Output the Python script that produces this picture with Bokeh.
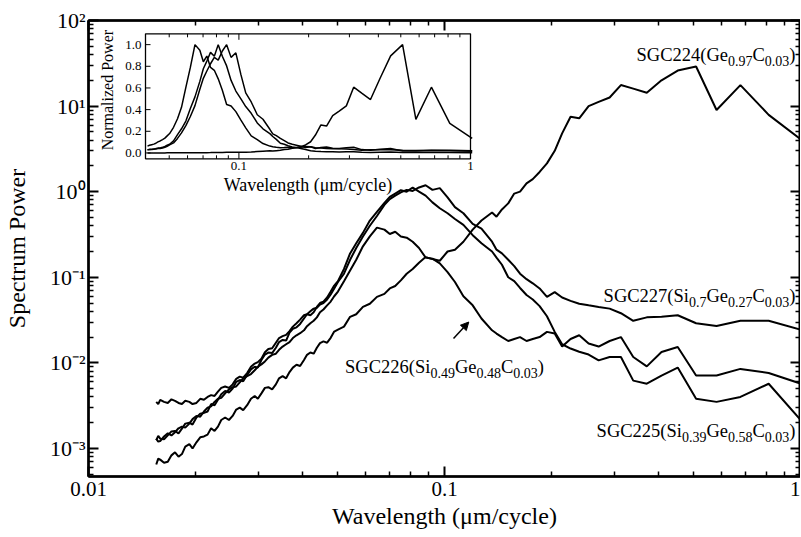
import math
from bokeh.plotting import figure
from bokeh.models import (Range1d, LogScale, LinearScale, LogAxis, FixedTicker,
                          CustomJSTickFormatter, Label, Arrow, NormalHead)
from bokeh.embed import file_html
from bokeh.resources import INLINE

# ---------------- data ----------------
wavelength = [0.0155, 0.0157, 0.0159, 0.0163, 0.0167, 0.0171, 0.0175, 0.0179, 0.0183, 0.0187,
              0.0192, 0.0196, 0.0201, 0.0206, 0.0211, 0.0216, 0.0221, 0.0226, 0.0231, 0.0236,
              0.0242, 0.0248, 0.0254, 0.0260, 0.0266, 0.0272, 0.0279, 0.0286, 0.0293, 0.0299,
              0.0306, 0.0313, 0.0320, 0.0328, 0.0336, 0.0343, 0.0351, 0.0359, 0.0367, 0.0375,
              0.0384, 0.0393, 0.0403, 0.0411, 0.0420, 0.0429, 0.0438, 0.0447, 0.0457, 0.0468,
              0.0479, 0.0490, 0.0502,
              0.0522, 0.0543, 0.0565, 0.0590, 0.0617, 0.0646, 0.0678, 0.0702, 0.0727, 0.0754,
              0.0783, 0.0814, 0.0848, 0.0885, 0.0925, 0.0970, 0.1020, 0.1070, 0.1130, 0.1200,
              0.1270, 0.1360, 0.1400, 0.1450, 0.1510, 0.1570, 0.1630, 0.1700, 0.1770, 0.1850,
              0.1940, 0.2040, 0.2140, 0.2260, 0.2390, 0.2540, 0.2710, 0.2910, 0.3130, 0.3390,
              0.3700, 0.4070, 0.4520, 0.5090, 0.5810, 0.6780, 0.8140, 1.0170]

sgc224 = [6.5e-4, 7.6e-4, 7.4e-4, 6.8e-4, 7.0e-4, 8.3e-4, 9.0e-4, 8.0e-4, 8.6e-4, 1.05e-3,
          1.12e-3, 1.0e-3, 1.18e-3, 1.35e-3, 1.38e-3, 1.45e-3, 1.72e-3, 1.6e-3, 1.8e-3, 2.15e-3,
          2.3e-3, 2.15e-3, 2.4e-3, 2.85e-3, 3.0e-3, 2.8e-3, 3.2e-3, 3.8e-3, 4.1e-3, 3.8e-3,
          4.4e-3, 5.1e-3, 5.2e-3, 4.9e-3, 5.6e-3, 6.6e-3, 7.0e-3, 6.6e-3, 7.8e-3, 8.8e-3,
          9.5e-3, 9.2e-3, 0.0108, 0.0124, 0.0132, 0.0128, 0.0150, 0.0170, 0.0178, 0.0172,
          0.0196, 0.0232, 0.0245,
          0.0265, 0.0345, 0.037, 0.045, 0.049, 0.059, 0.064, 0.074, 0.079, 0.092,
          0.11, 0.125, 0.148, 0.172, 0.163, 0.156, 0.20, 0.21, 0.26, 0.36,
          0.46, 0.57, 0.51, 0.62, 0.73, 0.95, 1.0, 1.25, 1.4, 1.7,
          2.14, 3.0, 4.8, 7.5, 7.2, 10.0, 11.2, 12.6, 17.6, 16.0,
          14.3, 20.0, 26.0, 29.0, 9.0, 17.6, 7.9, 3.9]

sgc225 = [1.25e-3, 1.4e-3, 1.3e-3, 1.28e-3, 1.42e-3, 1.58e-3, 1.6e-3, 1.5e-3, 1.7e-3, 1.95e-3,
          2.0e-3, 1.9e-3, 2.3e-3, 2.55e-3, 2.6e-3, 2.7e-3, 3.3e-3, 3.2e-3, 3.7e-3, 4.3e-3,
          4.7e-3, 4.5e-3, 5.0e-3, 6.0e-3, 6.3e-3, 6.1e-3, 7.2e-3, 8.4e-3, 9.0e-3, 8.8e-3,
          0.0108, 0.0125, 0.0132, 0.0130, 0.0150, 0.0175, 0.0185, 0.0182, 0.0225, 0.0250,
          0.026, 0.0285, 0.033, 0.037, 0.036, 0.039, 0.045, 0.050, 0.052, 0.058,
          0.068, 0.080, 0.09,
          0.125, 0.19, 0.25, 0.33, 0.46, 0.58, 0.74, 0.87, 0.95, 1.04,
          1.0, 1.12, 1.0, 0.9, 0.75, 0.64, 0.56, 0.48, 0.41, 0.31,
          0.25, 0.20, 0.17, 0.14, 0.10, 0.09, 0.075, 0.062, 0.055, 0.046,
          0.035, 0.023, 0.0165, 0.0147, 0.0135, 0.0125, 0.0107, 0.0117, 0.0117, 6.2e-3,
          5.7e-3, 7.1e-3, 8.8e-3, 3.8e-3, 3.5e-3, 4.0e-3, 5.7e-3, 2.0e-3]

sgc226 = [1.3e-3, 1.2e-3, 1.22e-3, 1.38e-3, 1.5e-3, 1.42e-3, 1.55e-3, 1.72e-3, 1.8e-3, 1.75e-3,
          1.95e-3, 2.2e-3, 2.4e-3, 2.35e-3, 2.7e-3, 3.0e-3, 3.1e-3, 3.5e-3, 3.8e-3, 3.9e-3,
          4.4e-3, 4.9e-3, 5.2e-3, 5.3e-3, 5.9e-3, 6.6e-3, 7.0e-3, 7.4e-3, 8.2e-3, 9.0e-3,
          9.6e-3, 0.0104, 0.0115, 0.0124, 0.0128, 0.0142, 0.0155, 0.0165, 0.0175, 0.0195,
          0.021, 0.0222, 0.024, 0.0268, 0.029, 0.031, 0.034, 0.039, 0.042, 0.047,
          0.052, 0.060, 0.068,
          0.09, 0.12, 0.16, 0.23, 0.30, 0.38, 0.36, 0.32, 0.34, 0.30,
          0.29, 0.26, 0.22, 0.17, 0.165, 0.145, 0.115, 0.088, 0.06, 0.047,
          0.033, 0.024, 0.022, 0.020, 0.018, 0.019, 0.020, 0.018, 0.019, 0.020,
          0.023, 0.022, 0.0155, 0.019, 0.021, 0.0168, 0.0155, 0.018, 0.020, 0.0117,
          9.1e-3, 0.0134, 0.0153, 7.1e-3, 7.1e-3, 8.5e-3, 7.6e-3, 5.6e-3]

sgc227 = [3.5e-3, 3.3e-3, 3.7e-3, 3.5e-3, 3.4e-3, 3.75e-3, 3.6e-3, 3.4e-3, 3.3e-3, 3.6e-3,
          3.5e-3, 3.3e-3, 3.4e-3, 3.8e-3, 3.7e-3, 4.0e-3, 4.2e-3, 4.1e-3, 4.6e-3, 5.1e-3,
          5.3e-3, 5.1e-3, 5.6e-3, 6.5e-3, 6.9e-3, 6.7e-3, 7.6e-3, 9.0e-3, 9.8e-3, 0.0102,
          0.0112, 0.0133, 0.0145, 0.0148, 0.0172, 0.0195, 0.0205, 0.0212, 0.0235, 0.0265,
          0.029, 0.032, 0.036, 0.037, 0.040, 0.043, 0.044, 0.048, 0.050, 0.055,
          0.063, 0.074, 0.088,
          0.11, 0.16, 0.22, 0.30, 0.40, 0.52, 0.70, 0.82, 0.90, 0.98,
          1.05, 1.02, 1.12, 1.19, 1.05, 1.10, 0.86, 0.66, 0.56, 0.42,
          0.37, 0.26, 0.21, 0.19, 0.16, 0.135, 0.11, 0.095, 0.085, 0.074,
          0.059, 0.067, 0.058, 0.053, 0.049, 0.047, 0.045, 0.043, 0.038, 0.031,
          0.034, 0.0345, 0.036, 0.029, 0.027, 0.031, 0.031, 0.024]

series = [sgc224, sgc225, sgc226, sgc227]

x_major = [0.01, 0.1, 1.0]
x_minor = [0.02, 0.03, 0.04, 0.05, 0.06, 0.07, 0.08, 0.09,
           0.2, 0.3, 0.4, 0.5, 0.6, 0.7, 0.8, 0.9]
y_major = [1e-3, 1e-2, 1e-1, 1.0, 10.0, 100.0]
y_minor = [5e-4, 6e-4, 7e-4, 8e-4, 9e-4,
           2e-3, 3e-3, 4e-3, 5e-3, 6e-3, 7e-3, 8e-3, 9e-3,
           2e-2, 3e-2, 4e-2, 5e-2, 6e-2, 7e-2, 8e-2, 9e-2,
           0.2, 0.3, 0.4, 0.5, 0.6, 0.7, 0.8, 0.9,
           2, 3, 4, 5, 6, 7, 8, 9,
           20, 30, 40, 50, 60, 70, 80, 90]

inset_x_major = [0.1]
inset_x_minor = [0.05, 0.06, 0.07, 0.08, 0.09, 0.2, 0.3, 0.4, 0.5, 0.6, 0.7, 0.8, 0.9]
inset_x_labels = [(0.1, "0.1"), (1.0, "1")]
inset_y_major = [0.0, 0.2, 0.4, 0.6, 0.8, 1.0]
inset_y_labels = ["0.0", "0.2", "0.4", "0.6", "0.8", "1.0"]

X_RANGE = (0.01, 1.0)
Y_RANGE = (4.7e-4, 100.0)
INSET_X = (0.0395, 1.0)
INSET_Y = (-0.054, 1.10)

# (pieces, x, y, align)  pieces: (text, is_subscript)
curve_labels = [
    ([("SGC224(Ge", 0), ("0.97", 1), ("C", 0), ("0.03", 1), (")", 0)], 1.0, 39.5, "right"),
    ([("SGC227(Si", 0), ("0.7", 1), ("Ge", 0), ("0.27", 1), ("C", 0), ("0.03", 1), (")", 0)], 1.0, 0.06, "right"),
    ([("SGC226(Si", 0), ("0.49", 1), ("Ge", 0), ("0.48", 1), ("C", 0), ("0.03", 1), (")", 0)], 0.1, 8.9e-3, "center"),
    ([("SGC225(Si", 0), ("0.39", 1), ("Ge", 0), ("0.58", 1), ("C", 0), ("0.03", 1), (")", 0)], 1.0, 1.58e-3, "right"),
]
arrow_from = (0.106, 0.0192)
arrow_to = (0.117, 0.030)

# ---------------- layout / style ----------------
FONT = "Liberation Serif"
FW, FH = 712, 456
BL, BR, BT, BB = 88, 0, 20, 57
# inset box, pixels relative to the frame's top-left corner
IB_L, IB_R, IB_T, IB_B = 57.0, 382.0, 13.3, 138.3

TW = {'S': .556, 'G': .722, 'C': .667, 'e': .444, 'i': .278, '(': .333, ')': .333,
      '.': .25, '-': .333}


def text_width(s, size):
    return sum(TW.get(ch, 0.5) for ch in s) * size


p = figure(frame_width=FW, frame_height=FH, x_axis_type="log", y_axis_type="log",
           x_range=Range1d(*X_RANGE), y_range=Range1d(*Y_RANGE),
           output_backend="svg", toolbar_location=None,
           min_border_left=BL, min_border_right=BR, min_border_top=BT, min_border_bottom=BB)
p.grid.visible = False
p.outline_line_color = "black"
p.outline_line_width = 2
p.background_fill_color = "white"
p.border_fill_color = "white"


def style(ax, ticks, minor):
    ax.ticker = FixedTicker(ticks=ticks, minor_ticks=minor)
    ax.axis_line_color = "black"
    ax.axis_line_width = 2.5
    ax.major_tick_in = 10
    ax.major_tick_out = 0
    ax.minor_tick_in = 5
    ax.minor_tick_out = 0
    ax.major_tick_line_width = 2
    ax.minor_tick_line_width = 1.5
    ax.major_tick_line_color = "black"
    ax.minor_tick_line_color = "black"


def blank(ax):
    ax.formatter = CustomJSTickFormatter(code="return '';")
    ax.major_label_text_font_size = "1px"
    ax.major_label_standoff = 0


xa = p.xaxis[0]
style(xa, x_major, x_minor)
xa.formatter = CustomJSTickFormatter(code="return String(Number(tick.toPrecision(3)));")
xa.major_label_text_font = FONT
xa.major_label_text_font_size = "21px"
xa.major_label_text_color = "black"
xa.major_label_standoff = 5
xa.axis_label = "Wavelength (\u03bcm/cycle)"
xa.axis_label_text_font = FONT
xa.axis_label_text_font_size = "24px"
xa.axis_label_text_font_style = "normal"
xa.axis_label_text_color = "black"
xa.axis_label_standoff = 4

ya = p.yaxis[0]
style(ya, y_major, y_minor)
ya.formatter = CustomJSTickFormatter(code="""
const sup = {"-": "\\u207b", "0": "\\u2070", "1": "\\u00b9", "2": "\\u00b2", "3": "\\u00b3",
             "4": "\\u2074", "5": "\\u2075", "6": "\\u2076", "7": "\\u2077", "8": "\\u2078", "9": "\\u2079"};
const e = Math.round(Math.log10(tick));
return "10" + String(e).split("").map(c => sup[c]).join("");
""")
ya.major_label_text_font = FONT
ya.major_label_text_font_size = "22px"
ya.major_label_text_color = "black"
ya.major_label_standoff = 3
ya.axis_label = "Spectrum Power"
ya.axis_label_text_font = FONT
ya.axis_label_text_font_size = "24px"
ya.axis_label_text_font_style = "normal"
ya.axis_label_text_color = "black"
ya.axis_label_standoff = 17

top = LogAxis()
style(top, x_major, x_minor)
blank(top)
p.add_layout(top, "above")

right = LogAxis()
style(right, y_major, y_minor)
blank(right)
p.add_layout(right, "right")

# main curves
for s in series:
    p.line(wavelength, s, line_color="black", line_width=2)

# curve labels with subscripts
MAIN_FS, SUB_FS = 18.5, 14
for pieces, lx, ly, align in curve_labels:
    total = sum(text_width(t, SUB_FS if sub else MAIN_FS) for t, sub in pieces)
    off = {"left": 0.0, "center": -total / 2, "right": -total - 5}[align]
    for txt, sub in pieces:
        fs = SUB_FS if sub else MAIN_FS
        p.add_layout(Label(x=lx, y=ly, text=txt, x_offset=off, y_offset=-6 if sub else 0,
                           text_align="left", text_baseline="alphabetic", text_font=FONT,
                           text_font_size=f"{fs}px", text_color="black"))
        off += text_width(txt, fs)

p.add_layout(Arrow(end=NormalHead(size=8, fill_color="black", line_color="black"),
                   x_start=arrow_from[0], y_start=arrow_from[1],
                   x_end=arrow_to[0], y_end=arrow_to[1],
                   line_color="black", line_width=1.5))

# ---------------- inset (own scales via extra ranges) ----------------
lx0, lx1 = math.log10(INSET_X[0]), math.log10(INSET_X[1])
ppd = (IB_R - IB_L) / (lx1 - lx0)
ppu = (IB_B - IB_T) / (INSET_Y[1] - INSET_Y[0])
p.extra_x_ranges = {"ix": Range1d(10 ** (lx0 - IB_L / ppd),
                                  10 ** (lx1 + (FW - IB_R) / ppd))}
p.extra_x_scales = {"ix": LogScale()}
p.extra_y_ranges = {"iy": Range1d(INSET_Y[0] - (FH - IB_B) / ppu,
                                  INSET_Y[1] + IB_T / ppu)}
p.extra_y_scales = {"iy": LinearScale()}
R = dict(x_range_name="ix", y_range_name="iy")

p.quad(left=[INSET_X[0]], right=[INSET_X[1]], bottom=[INSET_Y[0]], top=[INSET_Y[1]],
       fill_color="white", line_color="black", line_width=1.3, **R)

for s in series:
    peak = max(s)
    xs = [x for x in wavelength if x >= INSET_X[0]]
    ys = [v / peak for x, v in zip(wavelength, s) if x >= INSET_X[0]]
    p.line(xs, ys, line_color="black", line_width=1.5, **R)


def xticks(ticks, L):
    n = len(ticks)
    p.segment(x0=ticks, y0=[INSET_Y[0]] * n, x1=ticks, y1=[INSET_Y[0] + L / ppu] * n,
              line_color="black", line_width=1, **R)
    p.segment(x0=ticks, y0=[INSET_Y[1]] * n, x1=ticks, y1=[INSET_Y[1] - L / ppu] * n,
              line_color="black", line_width=1, **R)


xticks(inset_x_major, 6)
xticks(inset_x_minor, 3.5)
n = len(inset_y_major)
p.segment(x0=[INSET_X[0]] * n, y0=inset_y_major, x1=[INSET_X[0] * 10 ** (5 / ppd)] * n,
          y1=inset_y_major, line_color="black", line_width=1, **R)

for v, lab in zip(inset_y_major, inset_y_labels):
    p.add_layout(Label(x=INSET_X[0], y=v, text=lab, x_offset=-4, text_align="right",
                       text_baseline="middle", text_font=FONT, text_font_size="13px",
                       text_color="black", **R))
for v, lab in inset_x_labels:
    p.add_layout(Label(x=v, y=INSET_Y[0], text=lab, y_offset=-3, text_align="center",
                       text_baseline="top", text_font=FONT, text_font_size="13px",
                       text_color="black", **R))
p.add_layout(Label(x=math.sqrt(INSET_X[0] * INSET_X[1]), y=INSET_Y[0], text="Wavelength (\u03bcm/cycle)",
                   y_offset=-16, text_align="center", text_baseline="top", text_font=FONT,
                   text_font_size="18px", text_color="black", **R))
p.add_layout(Label(x=INSET_X[0], y=0.58, text="Normalized Power", x_offset=-38,
                   angle=math.pi / 2, text_align="center", text_baseline="middle",
                   text_font=FONT, text_font_size="16px", text_color="black", **R))

open("out.html", "w").write(file_html(p, INLINE))
